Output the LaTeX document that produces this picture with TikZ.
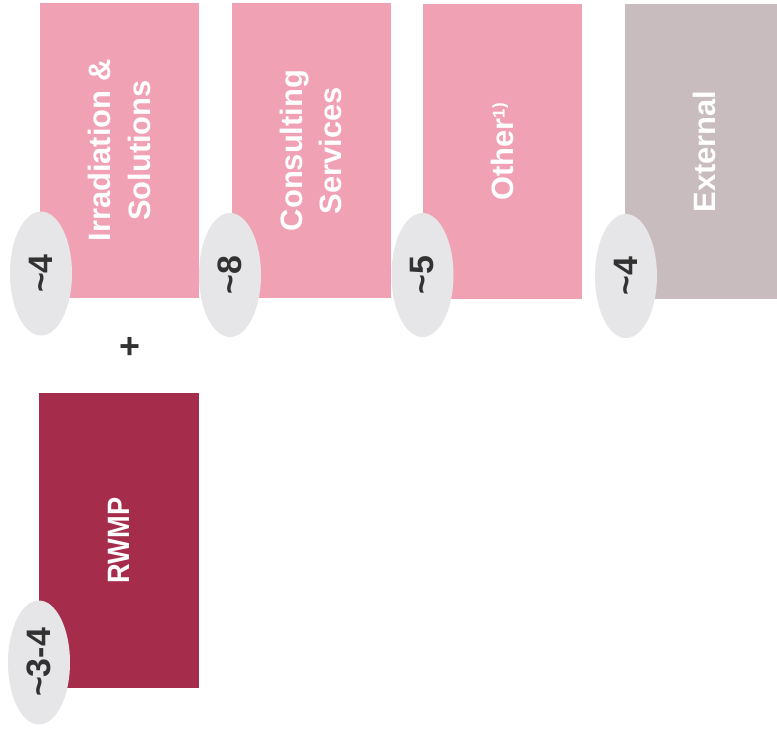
\documentclass[tikz,border=0pt]{standalone}
\usepackage{fontspec}
\setmainfont{Liberation Sans}
\usetikzlibrary{shapes.geometric}
\definecolor{pinkbox}{RGB}{240,162,180}
\definecolor{darkbox}{RGB}{166,44,76}
\definecolor{extbox}{RGB}{201,188,191}
\definecolor{ellfill}{RGB}{230,230,232}
\definecolor{valtext}{RGB}{50,50,50}
\begin{document}
\begin{tikzpicture}[x=1bp,y=-1bp,
  segbox/.style={rectangle, rotate=90, inner sep=0pt, minimum width=295bp, minimum height=159bp,
     text=white, align=center, font=\fontsize{31}{40}\selectfont\bfseries},
  valell/.style={ellipse, rotate=90, inner sep=0pt, minimum width=124bp, minimum height=62bp,
     fill=ellfill, text=valtext, font=\fontsize{34}{36}\selectfont\bfseries}]
\fill[white] (0,0) rectangle (777,729);
\useasboundingbox (0,0) rectangle (777,729);
\clip (0,0) rectangle (777,729);
% boxes
\node[segbox, fill=pinkbox] (irr) at (119.5,150.5) {Irradiation \&\\Solutions};
\node[segbox, fill=pinkbox] (con) at (311,150.5) {Consulting\\Services};
\node[segbox, fill=pinkbox] (oth) at (502.5,151.5) {Other\textsuperscript{\fontsize{17}{17}\selectfont 1)}};
\node[segbox, fill=extbox] (ext) at (704.5,151.5) {External};
\node[segbox, fill=darkbox, font=\fontsize{31}{36}\selectfont\bfseries] (rwmp) at (119,540.5) {\scalebox{0.88}[1]{RWMP}};
% value ellipses
\node[valell] (virr) at (41,273.5) {\textasciitilde4};
\node[valell] (vcon) at (230,275) {\textasciitilde8};
\node[valell] (voth) at (422.5,275) {\textasciitilde5};
\node[valell] (vext) at (626,276) {\textasciitilde4};
\node[valell] (vrwmp) at (39,662.5) {\textasciitilde3-4};
% plus
\node[text=valtext, font=\fontsize{36}{36}\selectfont\bfseries] (plus) at (130,348) {+};
\end{tikzpicture}
\end{document}
